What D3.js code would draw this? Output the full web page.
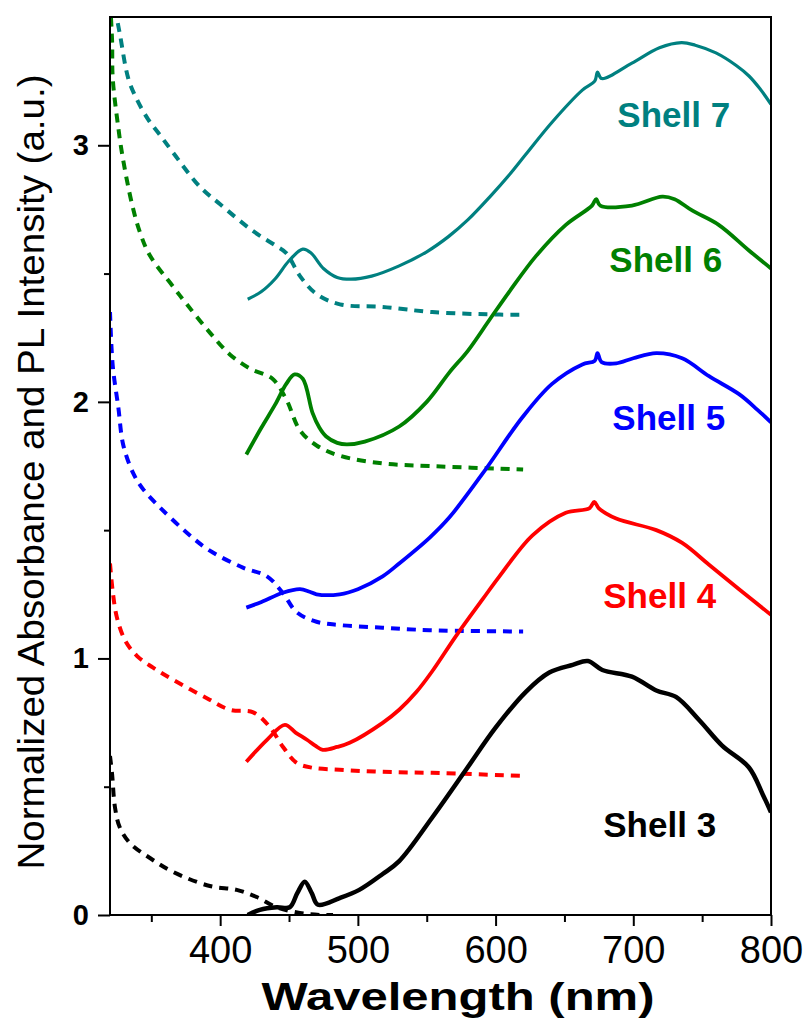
<!DOCTYPE html>
<html>
<head>
<meta charset="utf-8">
<script src="https://cdn.jsdelivr.net/npm/d3@7"></script>
<style>
  html, body { margin: 0; padding: 0; background: #fff; }
  svg { display: block; font-family: "Liberation Sans", Arial, sans-serif; }
</style>
</head>
<body>
<svg id="chart" width="806" height="1024"></svg>
<script>
// Normalized absorbance (dashed) and PL (solid) spectra, wavelength (nm) vs value.
const shells = ["Shell 3", "Shell 4", "Shell 5", "Shell 6", "Shell 7"];

const shell3PL = [[420,0.0],[428.8,0.02],[441,0.03],[450.5,0.03],[456,0.085],[461.4,0.13],[466.5,0.085],[471,0.04],[486.8,0.066],[501,0.098],[518,0.16],[530,0.21],[554,0.38],[579,0.57],[600,0.73],[622,0.87],[639,0.945],[656,0.975],[667,0.99],[677.5,0.955],[699,0.929],[716.7,0.875],[731,0.85],[747.8,0.76],[764.5,0.66],[784,0.575],[794,0.47],[800,0.40]];
const shell3Abs = [[320,0.62],[321.5,0.55],[323.6,0.42],[327,0.343],[334.5,0.28],[349,0.222],[365.7,0.168],[392.5,0.113],[412,0.098],[426.6,0.07],[441,0.03],[457.8,0.008],[472,0.0],[482,0.0]];

const shell4PL = [[419,0.597],[434,0.683],[447,0.741],[455,0.71],[463,0.683],[469,0.66],[474.5,0.644],[485,0.655],[494,0.671],[518,0.749],[530,0.80],[542.6,0.87],[554,0.95],[571.6,1.09],[590.5,1.23],[602.8,1.32],[626.8,1.48],[651,1.568],[668,1.585],[671.7,1.61],[675,1.585],[687.6,1.545],[716.7,1.50],[735.5,1.45],[755,1.365],[776.8,1.27],[800,1.17]];
const shell4Abs = [[320,1.37],[322,1.26],[325,1.16],[331,1.07],[339.5,1.01],[351,0.965],[365.7,0.917],[390,0.846],[407,0.80],[424,0.79],[436,0.733],[445.5,0.656],[455.6,0.593],[467,0.574],[486.8,0.566],[518,0.558],[554,0.554],[621,0.542]];

const shell5PL = [[419,1.198],[430,1.22],[445.5,1.256],[458,1.27],[465,1.26],[470,1.25],[486.8,1.25],[500,1.27],[518,1.32],[530,1.37],[552,1.47],[566.5,1.55],[590.5,1.72],[619.5,1.94],[641,2.07],[663,2.146],[672,2.16],[674,2.19],[677,2.155],[687.6,2.15],[700,2.17],[716.7,2.19],[735.5,2.17],[755,2.10],[776.8,2.03],[790,1.97],[800,1.92]];
const shell5Abs = [[320,2.35],[322,2.14],[326,1.98],[329.7,1.83],[337,1.72],[344,1.66],[356,1.59],[375.8,1.49],[392.5,1.42],[416.5,1.354],[434,1.32],[445.5,1.255],[455.6,1.18],[470,1.143],[486.8,1.13],[518,1.12],[552,1.11],[620,1.105]];

const shell6PL = [[419,1.795],[430,1.90],[440,1.99],[448,2.07],[454,2.107],[460,2.09],[467,1.958],[472,1.90],[477,1.865],[485,1.84],[492,1.834],[505,1.845],[530,1.904],[550,2.00],[566.5,2.115],[580,2.20],[595.6,2.32],[610,2.43],[629.6,2.57],[651,2.69],[670,2.765],[673,2.79],[676,2.765],[699,2.765],[721,2.80],[730,2.79],[743,2.745],[762,2.69],[784,2.59],[800,2.52]];
const shell6Abs = [[320,3.56],[321.5,3.41],[322,3.26],[326,3.07],[329,2.96],[336,2.77],[341.8,2.66],[349,2.57],[365.7,2.45],[375.8,2.38],[392.5,2.27],[407,2.185],[421.5,2.13],[438,2.09],[448,2.01],[457.8,1.89],[470,1.83],[486.8,1.79],[518,1.76],[552,1.75],[620,1.736]];

const shell7PL = [[420,2.40],[430,2.43],[440,2.48],[450,2.55],[460,2.595],[466,2.58],[475,2.52],[485,2.485],[495,2.478],[510,2.49],[530,2.53],[550,2.585],[566,2.645],[580,2.71],[596,2.80],[610,2.885],[622,2.965],[641,3.09],[663,3.215],[672,3.25],[674,3.285],[677,3.26],[699,3.32],[719,3.38],[735,3.40],[745,3.39],[760,3.36],[775,3.31],[784,3.27],[792,3.22],[800,3.16]];
const shell7Abs = [[322.5,3.60],[324.9,3.50],[327.3,3.43],[333.3,3.26],[339.4,3.18],[347.8,3.10],[356.3,3.04],[366,2.97],[385,2.84],[400,2.77],[424,2.665],[440,2.61],[448,2.58],[458,2.49],[470,2.42],[487,2.38],[518,2.37],[554,2.35],[603,2.34],[621,2.34]];

// Where each shell's name sits, in data units (left edge wavelength, baseline value).
const labelAt = [[678.2,0.304],[678.2,1.198],[684.8,1.892],[682.6,2.505],[688.4,3.07]];

const xMajorTicks = [400, 500, 600, 700, 800];
const xMinorTicks = [350, 450, 550, 650, 750];
const yMajorTicks = [0, 1, 2, 3];
const yMinorTicks = [0.5, 1.5, 2.5];

const plSeries = [shell3PL, shell4PL, shell5PL, shell6PL, shell7PL];
const absSeries = [shell3Abs, shell4Abs, shell5Abs, shell6Abs, shell7Abs];
const colors = ["#000000", "#ff0000", "#0000ff", "#008000", "#008080"];
const plWidths = [4.5, 3.8, 3.8, 3.8, 3.2];

const W = 806, H = 1024;
const margin = { left: 110, right: 35, top: 17, bottom: 109 };
const svg = d3.select("#chart");

const x = d3.scaleLinear().domain([320, 800]).range([margin.left, W - margin.right]);
const y = d3.scaleLinear().domain([0, 3.5]).range([H - margin.bottom, margin.top]);

svg.append("defs").append("clipPath").attr("id", "plot-clip")
  .append("rect")
  .attr("x", x(320)).attr("y", y(3.5))
  .attr("width", x(800) - x(320)).attr("height", y(0) - y(3.5));

const line = d3.line()
  .x(d => x(d[0]))
  .y(d => y(d[1]))
  .curve(d3.curveCatmullRom.alpha(0.5));

const plot = svg.append("g").attr("clip-path", "url(#plot-clip)");

// Absorbance spectra (dashed)
plot.selectAll("path.abs").data(absSeries).join("path")
  .attr("class", "abs")
  .attr("d", line)
  .attr("fill", "none")
  .attr("stroke", (d, i) => colors[i])
  .attr("stroke-width", 4)
  .attr("stroke-dasharray", "9,7");

// PL spectra (solid)
plot.selectAll("path.pl").data(plSeries).join("path")
  .attr("class", "pl")
  .attr("d", line)
  .attr("fill", "none")
  .attr("stroke", (d, i) => colors[i])
  .attr("stroke-width", (d, i) => plWidths[i])
  .attr("stroke-linejoin", "round");

// Frame
svg.append("rect")
  .attr("x", x(320)).attr("y", y(3.5))
  .attr("width", x(800) - x(320)).attr("height", y(0) - y(3.5))
  .attr("fill", "none").attr("stroke", "#000").attr("stroke-width", 2);

// X axis
const xAxis = svg.append("g").attr("transform", `translate(0,${y(0)})`);
xAxis.call(d3.axisBottom(x).tickValues(xMajorTicks).tickSize(11).tickSizeOuter(0).tickPadding(10));
xAxis.append("g").call(d3.axisBottom(x).tickValues(xMinorTicks).tickSize(7).tickFormat("").tickSizeOuter(0));
xAxis.selectAll(".domain").remove();
xAxis.selectAll(".tick line").attr("stroke", "#000").attr("stroke-width", 2);
xAxis.selectAll(".tick text")
  .attr("fill", "#000")
  .style("font-size", "38px")
  .style("font-family", "'Liberation Sans', Arial, sans-serif");

// Y axis
const yAxis = svg.append("g").attr("transform", `translate(${x(320)},0)`);
yAxis.call(d3.axisLeft(y).tickValues(yMajorTicks).tickSize(12).tickSizeOuter(0).tickPadding(9).tickFormat(d3.format("d")));
yAxis.append("g").call(d3.axisLeft(y).tickValues(yMinorTicks).tickSize(6).tickFormat("").tickSizeOuter(0));
yAxis.selectAll(".domain").remove();
yAxis.selectAll(".tick line").attr("stroke", "#000").attr("stroke-width", 2);
yAxis.selectAll(".tick text")
  .attr("fill", "#000")
  .style("font-size", "29px")
  .style("font-weight", "bold")
  .style("font-family", "'Liberation Sans', Arial, sans-serif");

// Axis titles
svg.append("text")
  .attr("x", 458).attr("y", 1010)
  .attr("text-anchor", "middle")
  .attr("textLength", 393).attr("lengthAdjust", "spacingAndGlyphs")
  .style("font-size", "38px").style("font-weight", "bold")
  .text("Wavelength (nm)");

svg.append("text")
  .attr("transform", "translate(44,472) rotate(-90)")
  .attr("text-anchor", "middle")
  .attr("textLength", 795).attr("lengthAdjust", "spacingAndGlyphs")
  .style("font-size", "37px")
  .text("Normalized Absorbance and PL Intensity (a.u.)");

// Shell labels
svg.selectAll("text.shell").data(shells).join("text")
  .attr("class", "shell")
  .attr("x", (d, i) => x(labelAt[i][0]))
  .attr("y", (d, i) => y(labelAt[i][1]))
  .attr("fill", (d, i) => colors[i])
  .style("font-size", "35px").style("font-weight", "bold")
  .text(d => d);
</script>
</body>
</html>
